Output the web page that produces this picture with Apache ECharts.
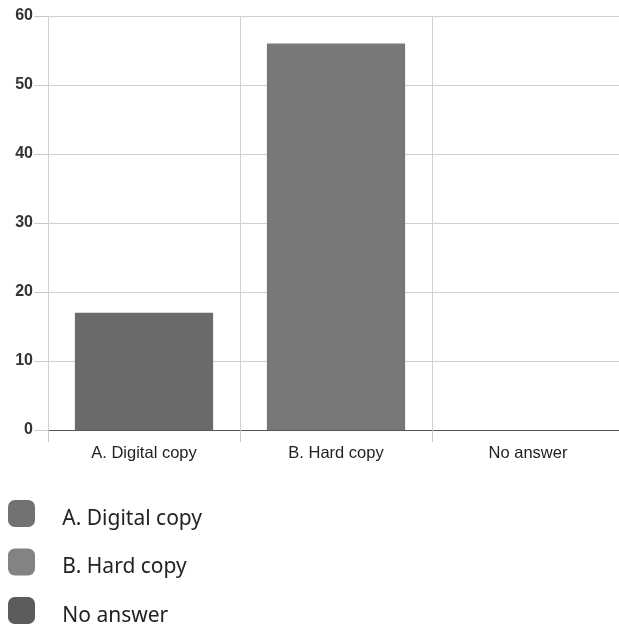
<!DOCTYPE html>
<html><head><meta charset="utf-8">
<script src="https://cdn.jsdelivr.net/npm/echarts@6/dist/echarts.min.js"></script>
<style>html,body{margin:0;padding:0;background:#fff}#c{width:619px;height:626px}</style>
</head><body><div id="c"></div>
<script>
const categories = ['A. Digital copy', 'B. Hard copy', 'No answer'];
const seriesNames = ['A. Digital copy', 'B. Hard copy', 'No answer'];
const values = [17, 56, 0];
const yTicks = [0, 10, 20, 30, 40, 50, 60];
const barColors = ['#6b6b6b', '#787878', '#5e5e5e'];
const legendColors = ['#727272', '#838383', '#5c5c5c'];

const chart = echarts.init(document.getElementById('c'));
const series = seriesNames.map((n, i) => ({
  name: n,
  type: 'bar',
  stack: 'all',
  barWidth: '72%',
  data: categories.map((c, j) => j === i ? values[i] : '-'),
  itemStyle: { color: barColors[i] }
}));
chart.setOption({
  animation: false,
  color: legendColors,
  grid: { left: 48, width: 576, top: 16, bottom: 196, containLabel: false, outerBoundsMode: 'none' },
  xAxis: {
    type: 'category',
    data: categories,
    axisLine: { lineStyle: { color: '#555', width: 1 } },
    axisTick: { show: true, length: 12, lineStyle: { color: '#c8c8c8' } },
    splitLine: { show: true, lineStyle: { color: '#d0d0d0' } },
    axisLabel: { color: '#222', fontSize: 16.5, fontFamily: 'Liberation Sans, Arial', margin: 15 }
  },
  yAxis: {
    type: 'value',
    min: yTicks[0], max: yTicks[yTicks.length - 1], interval: 10,
    axisLine: { show: false },
    axisTick: { show: true, length: 14, lineStyle: { color: '#c8c8c8' } },
    splitLine: { lineStyle: { color: '#d0d0d0' } },
    axisLabel: { color: '#333', fontSize: 16, fontWeight: 'bold', fontFamily: 'Liberation Sans, Arial', margin: 15 }
  },
  legend: {
    orient: 'vertical',
    left: 8, top: 500, height: 160,
    padding: 0,
    itemWidth: 27, itemHeight: 27,
    itemGap: 19,
    icon: 'roundRect',
    itemStyle: { borderWidth: 0 },
    formatter: n => '{s| }{t|' + n + '}',
    textStyle: {
      color: '#222', fontSize: 21, fontFamily: 'Noto Sans', padding: [0, 0, 0, 22],
      rich: {
        s: { fontSize: 1, lineHeight: 32 },
        t: { color: '#222', fontSize: 21, fontFamily: 'Noto Sans', lineHeight: 24, verticalAlign: 'bottom' }
      }
    },
    data: seriesNames.map((n, i) => ({ name: n, itemStyle: { color: legendColors[i] } }))
  },
  series: series
});
</script></body></html>
